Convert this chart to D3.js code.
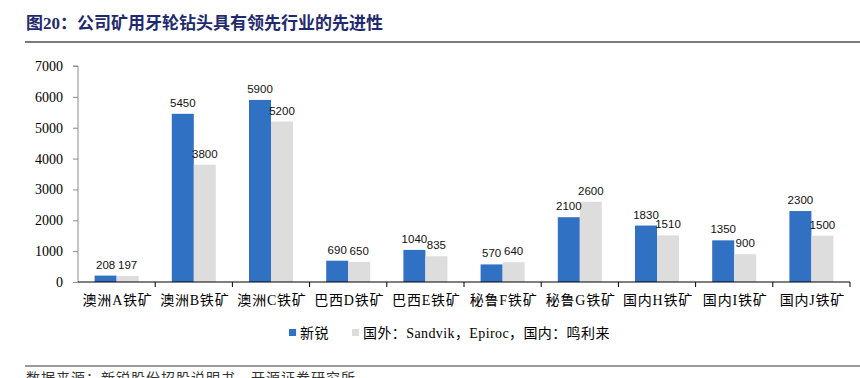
<!DOCTYPE html>
<html>
<head>
<meta charset="utf-8">
<script src="https://cdn.jsdelivr.net/npm/d3@7"></script>
<style>
  html, body { margin: 0; padding: 0; background: #fff; }
  svg { display: block; }
</style>
</head>
<body>
<svg id="chart" width="860" height="378"></svg>
<script>
const categories = ['澳洲A铁矿', '澳洲B铁矿', '澳洲C铁矿', '巴西D铁矿', '巴西E铁矿',
  '秘鲁F铁矿', '秘鲁G铁矿', '国内H铁矿', '国内I铁矿', '国内J铁矿'];
const xinrui = [208, 5450, 5900, 690, 1040, 570, 2100, 1830, 1350, 2300];
const foreign = [197, 3800, 5200, 650, 835, 640, 2600, 1510, 900, 1500];
const seriesNames = ['新锐', '国外：Sandvik，Epiroc，国内：鸣利来'];
const seriesColors = ['#3071C4', '#DDDDDD'];
const yTicks = [0, 1000, 2000, 3000, 4000, 5000, 6000, 7000];

const serif = '"Liberation Serif", "Noto Sans CJK SC", serif';
const sans = '"Liberation Sans", Arial, sans-serif';

const svg = d3.select('#chart');

// title + rules
svg.append('text')
  .attr('x', 26).attr('y', 29)
  .attr('fill', '#1F2A6E')
  .attr('font-family', serif)
  .attr('font-weight', 'bold')
  .attr('font-size', 17)
  .text('图20：公司矿用牙轮钻头具有领先行业的先进性');

svg.append('line')
  .attr('x1', 25).attr('x2', 860).attr('y1', 42).attr('y2', 42)
  .attr('stroke', '#7a7a7a').attr('stroke-width', 2);

svg.append('line')
  .attr('x1', 25).attr('x2', 860).attr('y1', 366).attr('y2', 366)
  .attr('stroke', '#7a7a7a').attr('stroke-width', 1.5);

// source note, cut by the bottom edge as in the original
svg.append('text')
  .attr('x', 26).attr('y', 383)
  .attr('fill', '#333')
  .attr('font-family', serif)
  .attr('font-size', 14)
  .attr('letter-spacing', 1)
  .text('数据来源：新锐股份招股说明书，开源证券研究所');

// scales
const x0 = d3.scaleBand()
  .domain(categories)
  .range([78, 850])
  .paddingInner(0.43)
  .paddingOuter(0.215);

const x1 = d3.scaleBand()
  .domain([0, 1])
  .range([0, x0.bandwidth()]);

const y = d3.scaleLinear()
  .domain([0, 7000])
  .range([282, 66]);

const catStart = d3.scaleLinear().domain([0, categories.length]).range([78, 850]);

// y axis
const yAxis = svg.append('g')
  .attr('transform', 'translate(78,0)')
  .call(d3.axisLeft(y).tickValues(yTicks).tickSize(5).tickPadding(10).tickFormat(d3.format('d')));
yAxis.selectAll('path, line').attr('stroke', '#8c8c8c');
yAxis.select('.domain').attr('d', `M-5,${y(7000)}H0V${y(0)}`);
yAxis.selectAll('text')
  .attr('fill', '#000')
  .attr('font-family', serif)
  .attr('font-size', 14);

// bars
const rows = categories.map((c, i) => ({ cat: c, values: [xinrui[i], foreign[i]] }));

const groups = svg.append('g').selectAll('g.grp').data(rows).join('g')
  .attr('class', 'grp')
  .attr('transform', d => `translate(${x0(d.cat)},0)`);

groups.selectAll('rect').data(d => d.values.map((v, k) => ({ k, v }))).join('rect')
  .attr('x', d => x1(d.k))
  .attr('y', d => y(d.v))
  .attr('width', x1.bandwidth())
  .attr('height', d => y(0) - y(d.v))
  .attr('fill', d => seriesColors[d.k]);

groups.selectAll('text').data(d => d.values.map((v, k) => ({ k, v }))).join('text')
  .attr('x', d => x1(d.k) + x1.bandwidth() / 2)
  .attr('y', d => y(d.v) - 7)
  .attr('text-anchor', 'middle')
  .attr('fill', '#111')
  .attr('font-family', sans)
  .attr('font-size', 11.5)
  .text(d => d.v);

// x axis
const xAxisG = svg.append('g');
xAxisG.append('line')
  .attr('x1', 78).attr('x2', 850).attr('y1', y(0)).attr('y2', y(0))
  .attr('stroke', '#000').attr('stroke-width', 1);
xAxisG.selectAll('line.tick').data(d3.range(1, categories.length + 1)).join('line')
  .attr('class', 'tick')
  .attr('x1', d => catStart(d)).attr('x2', d => catStart(d))
  .attr('y1', y(0)).attr('y2', y(0) + 5)
  .attr('stroke', '#000');
xAxisG.selectAll('text').data(categories).join('text')
  .attr('x', d => x0(d) + x0.bandwidth() / 2 + 1)
  .attr('y', 305)
  .attr('text-anchor', 'middle')
  .attr('fill', '#000')
  .attr('font-family', serif)
  .attr('font-size', 14)
  .attr('letter-spacing', 0.8)
  .text(d => d);

// legend
const legend = svg.append('g').attr('transform', 'translate(289,333)');
const legendX = [0, 63];
seriesNames.forEach((name, i) => {
  const item = legend.append('g').attr('transform', `translate(${legendX[i]},0)`);
  item.append('rect')
    .attr('x', 0).attr('y', -4).attr('width', 7).attr('height', 7)
    .attr('fill', seriesColors[i]);
  item.append('text')
    .attr('x', 11).attr('y', 5)
    .attr('fill', '#000')
    .attr('font-family', serif)
    .attr('font-size', 14)
    .attr('letter-spacing', 0.4)
    .text(name);
});
</script>
</body>
</html>
